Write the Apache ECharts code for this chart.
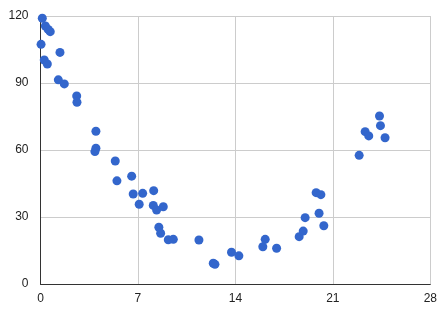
<!DOCTYPE html>
<html><head><meta charset="utf-8">
<script src="https://cdn.jsdelivr.net/npm/echarts@6/dist/echarts.min.js"></script>
<style>html,body{margin:0;padding:0;background:#fff}#c{width:444px;height:316px}</style>
</head><body><div id="c"></div>
<script>
const xValues = [0.13,0.35,0.55,0.7,0.04,1.4,0.27,0.49,1.28,1.71,2.6,2.62,3.98,3.98,3.91,5.37,6.55,5.49,6.66,7.34,7.09,8.13,8.1,8.34,8.82,8.5,8.63,9.18,9.54,11.38,12.41,12.53,13.72,14.25,15.97,16.14,16.96,18.58,18.87,19.01,20.01,20.35,19.8,20.14,22.89,23.32,23.58,24.35,24.42,24.75];
const yValues = [119,115.5,114,113,107.3,103.7,100.3,98.5,91.4,89.6,84.2,81.4,68.4,60.8,59.3,55.1,48.3,46.2,40.3,40.6,35.7,41.8,35.2,33.1,34.6,25.4,22.7,19.8,20.0,19.7,9.3,8.8,14.2,12.6,16.7,20.0,16.0,21.2,23.7,29.7,31.7,26.1,40.9,40.0,57.6,68.2,66.3,75.2,70.9,65.5];
const xTicks = [0,7,14,21,28];
const yTicks = [0,30,60,90,120];
const points = xValues.map((x,i)=>[x,yValues[i]]);
const chart = echarts.init(document.getElementById('c'));
const font = {fontFamily:'Liberation Sans, Arial', fontSize:12, color:'#222'};
chart.setOption({
  animation:false,
  grid:{left:40.5,right:13.7,top:16,bottom:32},
  xAxis:{type:'value',min:xTicks[0],max:xTicks[xTicks.length-1],interval:7,
    axisLine:{show:true,onZero:false,lineStyle:{color:'#333',width:1}},
    axisTick:{show:false},
    axisLabel:Object.assign({margin:9},font),
    splitLine:{show:true,lineStyle:{color:'#ccc',width:1}}},
  yAxis:{type:'value',min:yTicks[0],max:yTicks[yTicks.length-1],interval:30,
    axisLine:{show:true,onZero:false,lineStyle:{color:'#333',width:1}},
    axisTick:{show:false},
    axisLabel:Object.assign({margin:12},font),
    splitLine:{show:true,lineStyle:{color:'#ccc',width:1}}},
  series:[{type:'scatter',data:points,symbolSize:9,itemStyle:{color:'#3366cc',opacity:1}}]
});
</script></body></html>
